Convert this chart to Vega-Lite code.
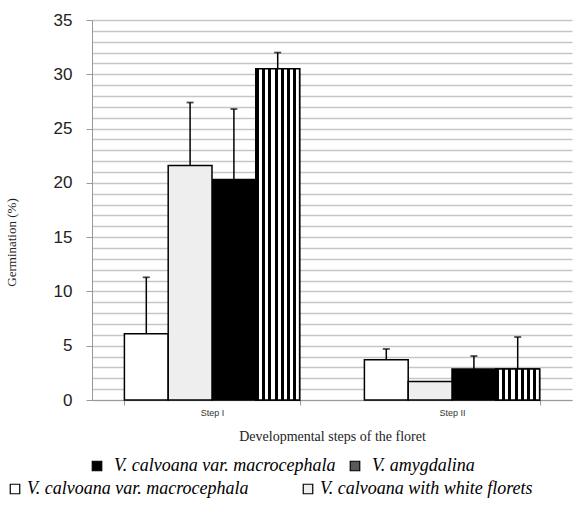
{
  "$schema": "https://vega.github.io/schema/vega-lite/v6.json",
  "width": 480,
  "height": 380,
  "autosize": {"type": "none"},
  "padding": {"left": 92, "top": 20, "right": 1, "bottom": 129},
  "background": "white",
  "config": {
    "view": {"stroke": null},
    "legend": {
      "orient": "none",
      "direction": "horizontal",
      "title": null,
      "padding": 0,
      "labelFont": "Liberation Serif",
      "labelFontSize": 18,
      "labelFontStyle": "italic",
      "labelColor": "black",
      "labelLimit": 400,
      "symbolType": "square",
      "symbolSize": 90,
      "symbolStrokeColor": "black",
      "symbolStrokeWidth": 1.2,
      "symbolOpacity": 1
    }
  },
  "data": {
    "values": [
      {"step": "Step I", "series": "white", "value": 6.1, "upper": 11.3},
      {"step": "Step I", "series": "dotted", "value": 21.6, "upper": 27.4},
      {"step": "Step I", "series": "black", "value": 20.3, "upper": 26.8},
      {"step": "Step I", "series": "checker", "value": 30.5, "upper": 32.0},
      {"step": "Step II", "series": "white", "value": 3.7, "upper": 4.7},
      {"step": "Step II", "series": "dotted", "value": 1.7, "upper": null},
      {"step": "Step II", "series": "black", "value": 2.85, "upper": 4.05},
      {"step": "Step II", "series": "checker", "value": 2.85, "upper": 5.8}
    ]
  },
  "encoding": {
    "x": {
      "field": "step",
      "type": "nominal",
      "scale": {"paddingInner": 0.27, "paddingOuter": 0.135},
      "axis": {
        "title": "Developmental steps of the floret",
        "titleFont": "Liberation Serif",
        "titleFontSize": 14,
        "titleFontWeight": "normal",
        "titleColor": "#222",
        "titlePadding": 12,
        "labelAngle": 0,
        "labelFont": "Liberation Sans",
        "labelFontSize": 9,
        "labelColor": "#333",
        "labelPadding": 3,
        "domainColor": "#999",
        "tickColor": "#999",
        "tickSize": 5,
        "tickBand": "extent"
      }
    },
    "xOffset": {
      "field": "series",
      "type": "nominal",
      "scale": {"domain": ["white", "dotted", "black", "checker"], "paddingInner": 0, "paddingOuter": 0}
    },
    "y": {
      "field": "value",
      "type": "quantitative",
      "scale": {"domain": [0, 35], "nice": false, "zero": true},
      "axis": {
        "title": "Germination (%)",
        "titleFont": "Liberation Serif",
        "titleFontSize": 13,
        "titleFontWeight": "normal",
        "titleColor": "#222",
        "titleX": -74,
        "titleY": 222,
        "values": [0, 0.5, 1, 1.5, 2, 2.5, 3, 3.5, 4, 4.5, 5, 5.5, 6, 6.5, 7, 7.5, 8, 8.5, 9, 9.5, 10, 10.5, 11, 11.5, 12, 12.5, 13, 13.5, 14, 14.5, 15, 15.5, 16, 16.5, 17, 17.5, 18, 18.5, 19, 19.5, 20, 20.5, 21, 21.5, 22, 22.5, 23, 23.5, 24, 24.5, 25, 25.5, 26, 26.5, 27, 27.5, 28, 28.5, 29, 29.5, 30, 30.5, 31, 31.5, 32, 32.5, 33, 33.5, 34, 34.5, 35],
        "format": "d",
        "labelExpr": "datum.value % 5 === 0 ? datum.label : ''",
        "labelOverlap": false,
        "labelFont": "Liberation Sans",
        "labelFontSize": 17,
        "labelColor": "#222",
        "labelPadding": 14,
        "domainColor": "#999",
        "tickColor": "#999",
        "tickSize": 6,
        "tickOpacity": {"condition": {"test": "datum.value % 5 === 0", "value": 1}, "value": 0},
        "grid": true,
        "gridColor": {"condition": {"test": "datum.value % 1 === 0", "value": "#c6c6c6"}, "value": "#9a9a9a"},
        "gridWidth": {"condition": {"test": "datum.value % 1 === 0", "value": 1.3}, "value": 2},
        "gridDash": {"condition": {"test": "datum.value % 1 === 0", "value": []}, "value": [2, 7]},
        "gridOpacity": 1
      }
    }
  },
  "layer": [
    {
      "transform": [{"filter": "datum.series === 'black' || datum.series === 'checker'"}],
      "mark": {"type": "bar", "stroke": "black", "strokeWidth": 1.5},
      "encoding": {
        "fill": {
          "field": "series",
          "type": "nominal",
          "scale": {"domain": ["black", "checker"], "range": ["black", "#5a5a5a"]},
          "legend": {
            "legendX": -4,
            "legendY": 437,
            "labelOffset": 8,
            "columnPadding": 10,
            "labelExpr": "datum.value === 'black' ? 'V. calvoana var. macrocephala' : 'V. amygdalina'"
          }
        }
      }
    },
    {
      "transform": [{"filter": "datum.series === 'white' || datum.series === 'dotted'"}],
      "mark": {"type": "bar", "stroke": "black", "strokeWidth": 1.5},
      "encoding": {
        "color": {
          "field": "series",
          "type": "nominal",
          "scale": {"domain": ["white", "dotted"], "range": ["white", "#eeeeee"]},
          "legend": {
            "legendX": -86,
            "legendY": 460,
            "labelOffset": 3,
            "columnPadding": 50,
            "labelExpr": "datum.value === 'white' ? 'V. calvoana var. macrocephala' : 'V. calvoana with white florets'"
          }
        }
      }
    },
    {
      "transform": [{"filter": "datum.series === 'checker'"}],
      "mark": {
        "type": "bar",
        "stroke": "black",
        "strokeWidth": 1.5,
        "fill": {
          "gradient": "linear",
          "x1": 0, "y1": 0, "x2": 1, "y2": 0,
          "stops": [
            {"offset": 0, "color": "black"}, {"offset": 0.0714, "color": "black"},
            {"offset": 0.0714, "color": "white"}, {"offset": 0.1429, "color": "white"},
            {"offset": 0.1429, "color": "black"}, {"offset": 0.2143, "color": "black"},
            {"offset": 0.2143, "color": "white"}, {"offset": 0.2857, "color": "white"},
            {"offset": 0.2857, "color": "black"}, {"offset": 0.3571, "color": "black"},
            {"offset": 0.3571, "color": "white"}, {"offset": 0.4286, "color": "white"},
            {"offset": 0.4286, "color": "black"}, {"offset": 0.5, "color": "black"},
            {"offset": 0.5, "color": "white"}, {"offset": 0.5714, "color": "white"},
            {"offset": 0.5714, "color": "black"}, {"offset": 0.6429, "color": "black"},
            {"offset": 0.6429, "color": "white"}, {"offset": 0.7143, "color": "white"},
            {"offset": 0.7143, "color": "black"}, {"offset": 0.7857, "color": "black"},
            {"offset": 0.7857, "color": "white"}, {"offset": 0.8571, "color": "white"},
            {"offset": 0.8571, "color": "black"}, {"offset": 0.9286, "color": "black"},
            {"offset": 0.9286, "color": "white"}, {"offset": 1, "color": "white"}
          ]
        }
      },
      "encoding": {}
    },
    {
      "transform": [{"filter": "datum.upper != null"}],
      "mark": {"type": "rule", "color": "black", "strokeWidth": 1.5},
      "encoding": {
        "y2": {"field": "upper"}
      }
    },
    {
      "transform": [{"filter": "datum.upper != null"}],
      "mark": {"type": "tick", "color": "black", "thickness": 1.8, "size": 7},
      "encoding": {
        "y": {"field": "upper", "type": "quantitative"}
      }
    }
  ]
}
